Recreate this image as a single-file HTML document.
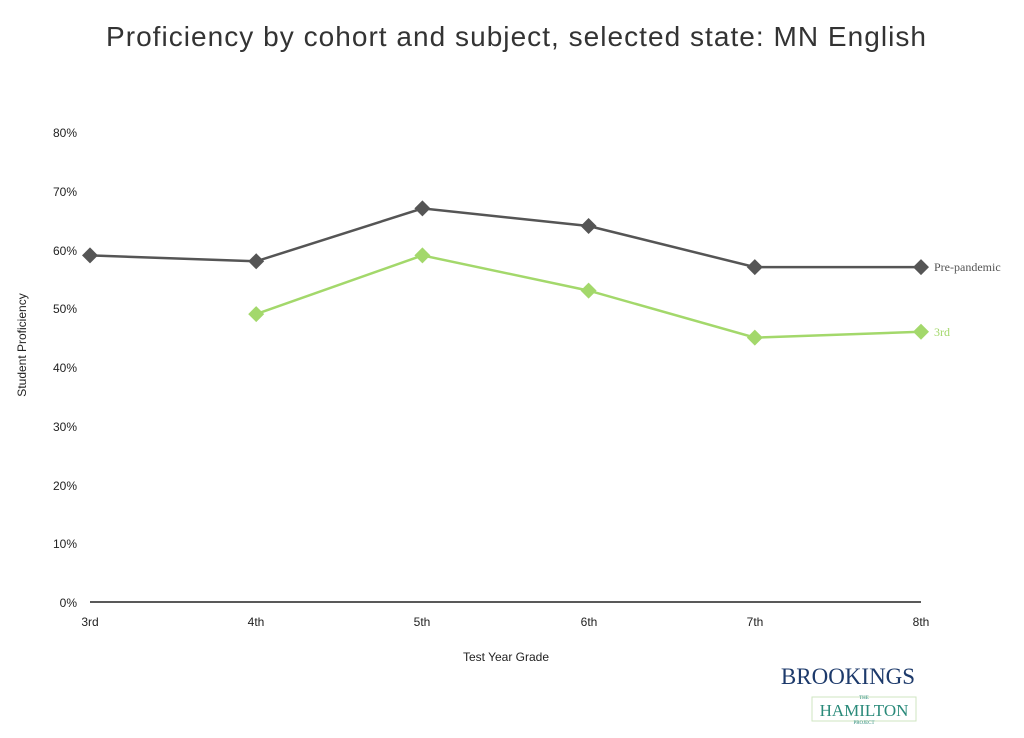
<!DOCTYPE html>
<html><head><meta charset="utf-8"><style>
body{margin:0;background:#fff;}
svg text{font-family:"Liberation Sans",sans-serif;}
</style></head><body>
<svg width="1024" height="733" viewBox="0 0 1024 733" xmlns="http://www.w3.org/2000/svg">
<text x="106" y="46" font-size="28" fill="#333" textLength="820" lengthAdjust="spacing">Proficiency by cohort and subject, selected state: MN English</text>
<g font-size="12" fill="#222" text-anchor="end">
<text x="77" y="137">80%</text><text x="77" y="196">70%</text><text x="77" y="255">60%</text><text x="77" y="313">50%</text><text x="77" y="372">40%</text><text x="77" y="431">30%</text><text x="77" y="490">20%</text><text x="77" y="548">10%</text><text x="77" y="607">0%</text>
</g>
<text transform="translate(26,345) rotate(-90)" font-size="12" text-anchor="middle" fill="#222">Student Proficiency</text>
<line x1="90" y1="602" x2="921" y2="602" stroke="#222" stroke-width="1.5"/>
<g font-size="12" fill="#222" text-anchor="middle">
<text x="90" y="626">3rd</text><text x="256" y="626">4th</text><text x="422" y="626">5th</text><text x="589" y="626">6th</text><text x="755" y="626">7th</text><text x="921" y="626">8th</text>
</g>
<text x="506" y="661" font-size="12" text-anchor="middle" fill="#222">Test Year Grade</text>
<polyline fill="none" stroke="#555" stroke-width="2.5" points="90,255.4 256.2,261.3 422.4,208.4 588.6,226 754.8,267.1 921,267.1"/>
<polyline fill="none" stroke="#a3d86b" stroke-width="2.5" points="256.2,314.1 422.4,255.4 588.6,290.6 754.8,337.6 921,331.8"/>
<g fill="#555">
<path d="M90,247.4l8,8l-8,8l-8,-8z"/><path d="M256.2,253.3l8,8l-8,8l-8,-8z"/><path d="M422.4,200.4l8,8l-8,8l-8,-8z"/><path d="M588.6,218l8,8l-8,8l-8,-8z"/><path d="M754.8,259.1l8,8l-8,8l-8,-8z"/><path d="M921,259.1l8,8l-8,8l-8,-8z"/>
</g>
<g fill="#a3d86b">
<path d="M256.2,306.1l8,8l-8,8l-8,-8z"/><path d="M422.4,247.4l8,8l-8,8l-8,-8z"/><path d="M588.6,282.6l8,8l-8,8l-8,-8z"/><path d="M754.8,329.6l8,8l-8,8l-8,-8z"/><path d="M921,323.8l8,8l-8,8l-8,-8z"/>
</g>
<text x="934" y="271" font-size="12" fill="#555" style="font-family:'Liberation Serif',serif">Pre-pandemic</text>
<text x="934" y="336" font-size="12" fill="#a3d86b" style="font-family:'Liberation Serif',serif">3rd</text>
<text x="848" y="684" text-anchor="middle" font-size="23" fill="#1d3a6b" style="font-family:'Liberation Serif',serif">BROOKINGS</text>
<rect x="812" y="697" width="104" height="24" fill="none" stroke="#cfe6c0" stroke-width="1"/>
<text x="864" y="699" text-anchor="middle" font-size="5" fill="#2a8a7a" style="font-family:'Liberation Serif',serif">THE</text>
<text x="864" y="716" text-anchor="middle" font-size="17" fill="#2a8a7a" style="font-family:'Liberation Serif',serif">HAMILTON</text>
<text x="864" y="724" text-anchor="middle" font-size="5" fill="#2a8a7a" style="font-family:'Liberation Serif',serif">PROJECT</text>
</svg>
</body></html>
